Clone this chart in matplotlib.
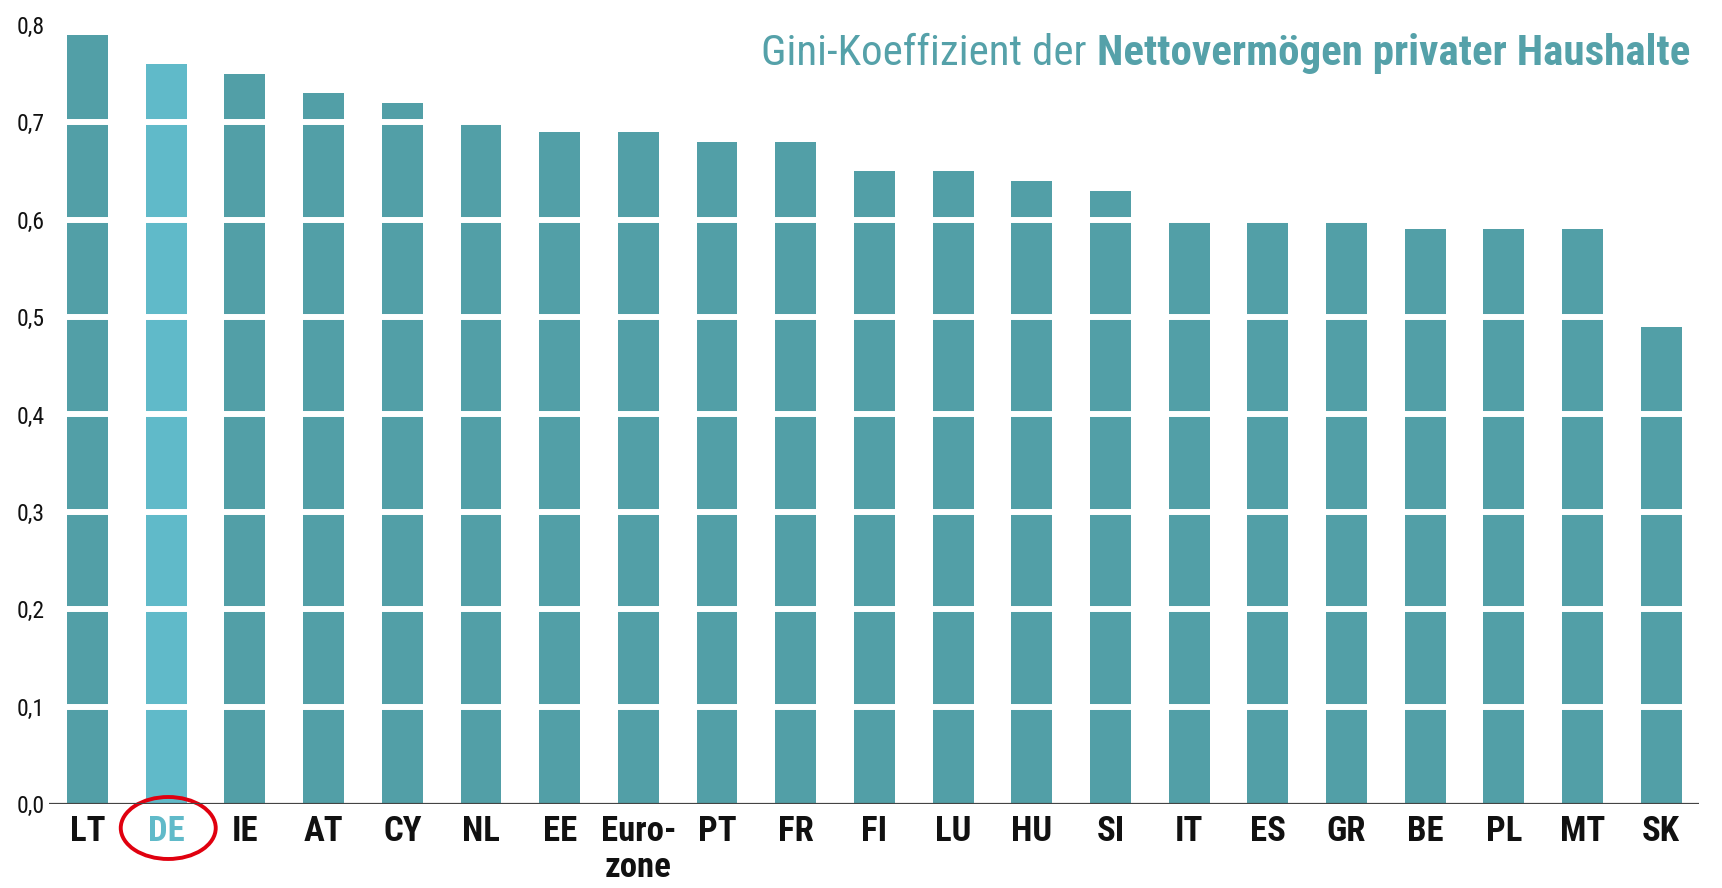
import matplotlib
matplotlib.use("Agg")
import matplotlib.pyplot as plt
from matplotlib.patches import Ellipse

countries = ["LT", "DE", "IE", "AT", "CY", "NL", "EE", "Euro-\nzone", "PT", "FR", "FI",
             "LU", "HU", "SI", "IT", "ES", "GR", "BE", "PL", "MT", "SK"]
gini = [0.79, 0.76, 0.75, 0.73, 0.72, 0.70, 0.69, 0.69, 0.68, 0.68, 0.65,
        0.65, 0.64, 0.63, 0.60, 0.60, 0.60, 0.59, 0.59, 0.59, 0.49]
yticks = [0.0, 0.1, 0.2, 0.3, 0.4, 0.5, 0.6, 0.7, 0.8]
ytick_labels = ["0,0", "0,1", "0,2", "0,3", "0,4", "0,5", "0,6", "0,7", "0,8"]
highlight = "DE"
title_regular = "Gini-Koeffizient der "
title_bold = "Nettovermögen privater Haushalte"

FONT = ["Roboto Condensed", "DejaVu Sans"]
TEAL = "#529fa7"
LIGHT = "#60bac9"
TITLE_C = "#55a1a9"

W, H = 1722, 888
fig = plt.figure(figsize=(W / 100, H / 100), dpi=100)
ax = fig.add_axes([49 / W, 1 - 804 / H, (1699 - 49) / W, (804 - 25) / H])

x = list(range(len(countries)))
colors = [LIGHT if c == highlight else TEAL for c in countries]
ax.bar(x, gini, width=0.52, color=colors, zorder=1)

for yv in yticks[1:]:
    ax.axhline(yv, color="white", lw=4.3, zorder=2)
ax.axhline(0, color="#444444", lw=1.6, zorder=3)

ax.set_xlim(-0.49, len(countries) - 1 + 0.48)
ax.set_ylim(0, 0.8)
for s in ax.spines.values():
    s.set_visible(False)
ax.set_yticks(yticks)
ax.set_yticklabels(ytick_labels, fontfamily=FONT, fontsize=17, color="#111111")
ax.tick_params(axis="y", length=0, pad=3)
ax.set_xticks(x)
ax.set_xticklabels(countries, fontfamily=FONT, fontsize=25, fontweight="bold",
                   va="top", linespacing=1.1, color="#111111")
ax.tick_params(axis="x", length=0, pad=8)
for lbl, c in zip(ax.get_xticklabels(), countries):
    if c == highlight:
        lbl.set_color(LIGHT)

# red ellipse around highlighted label (data units: 0.1 per 97.4 px vertically)
hi = countries.index(highlight)
px = 0.1 / 97.4
ell = Ellipse((hi + 2 / 78.7, -(828 - 804) * px), width=95 / 78.7, height=62 * px,
              transform=ax.transData, fill=False, ec="#e0000f", lw=2.8, clip_on=False)
ax.add_patch(ell)

tb = fig.text(1690 / W, 1 - 65 / H, title_bold, ha="right", va="baseline",
              fontfamily=FONT, fontweight="bold", fontsize=31, color=TITLE_C)
ax.annotate(title_regular, xy=(0, 0), xycoords=tb, ha="right", va="bottom",
            fontfamily=FONT, fontweight="normal", fontsize=31, color=TITLE_C,
            annotation_clip=False)

fig.savefig("out.png", dpi=100, facecolor="white")
